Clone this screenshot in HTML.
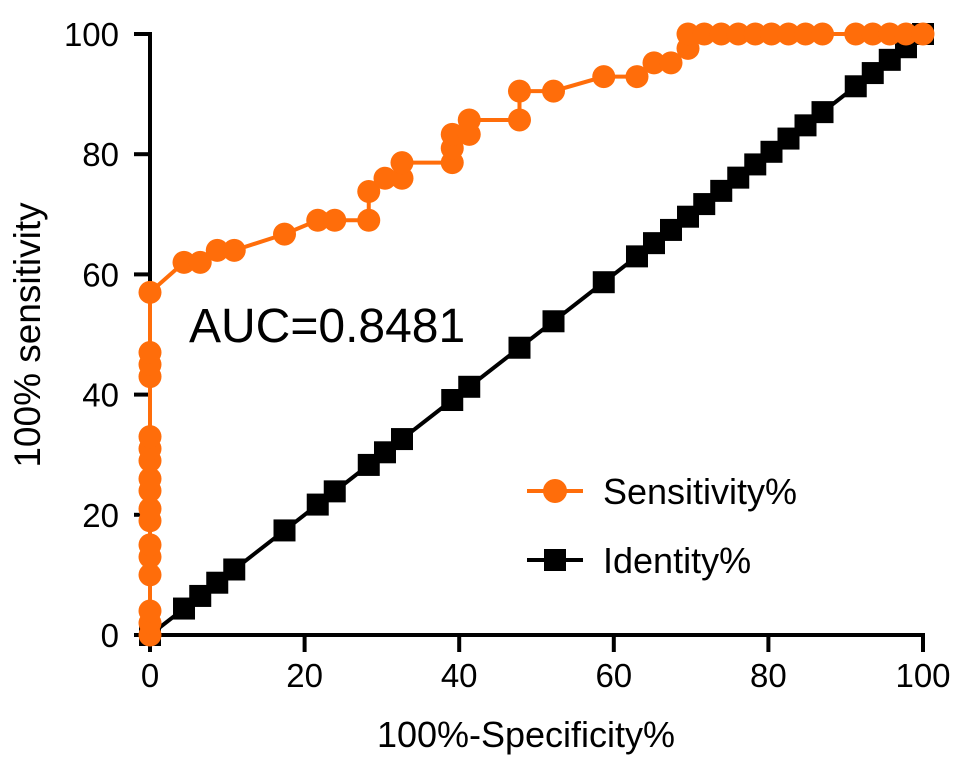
<!DOCTYPE html>
<html><head><meta charset="utf-8"><style>
body{margin:0;background:#fff}
svg{display:block;font-family:"Liberation Sans",Arial,sans-serif}
</style></head><body>
<svg id="chart" width="969" height="765" viewBox="0 0 969 765">
<g id="axes"></g><g id="plot"></g>
<text x="189" y="342" font-size="48" fill="#000">AUC=0.8481</text>
<text x="526" y="747" font-size="36" text-anchor="middle">100%-Specificity%</text>
<text transform="translate(40,335) rotate(-90)" font-size="37" text-anchor="middle">100% sensitivity</text>
<g>
<line x1="527" y1="491" x2="583" y2="491" stroke="#ff6d0a" stroke-width="4"/>
<circle cx="555" cy="491" r="12" fill="#ff6d0a"/>
<text x="603" y="504" font-size="36">Sensitivity%</text>
<line x1="527" y1="560" x2="583" y2="560" stroke="#000" stroke-width="4"/>
<rect x="544" y="549" width="22" height="22" fill="#000"/>
<text x="603" y="573" font-size="36">Identity%</text>
</g>
</svg>
<script>
const sensX=[0,0,0,0,0,0,0,0,0,0,0,0,0,0,0,0,0,4.4,6.5,8.7,10.9,17.4,21.7,23.9,28.3,28.3,30.4,32.6,32.6,39.1,39.1,39.1,41.3,41.3,47.8,47.8,52.2,58.7,63,65.2,67.4,69.6,69.6,71.7,73.9,76.1,78.3,80.4,82.6,84.8,87,91.3,93.5,95.7,97.8,100];
const sensY=[0,2,4,10,13,15,19,21,24,26,29,31,33,43,45,47,57,62,62,64,64,66.7,69,69,69,73.8,76,76,78.6,78.6,81,83.3,83.3,85.7,85.7,90.5,90.5,92.9,92.9,95.2,95.2,97.6,100,100,100,100,100,100,100,100,100,100,100,100,100,100];
const identX=[0,4.4,6.5,8.7,10.9,17.4,21.7,23.9,28.3,30.4,32.6,39.1,41.3,47.8,52.2,58.7,63,65.2,67.4,69.6,71.7,73.9,76.1,78.3,80.4,82.6,84.8,87,91.3,93.5,95.7,97.8,100];
const identY=identX.slice();
const xTicks=[0,20,40,60,80,100];
const yTicks=[0,20,40,60,80,100];
const NS='http://www.w3.org/2000/svg';
const X=v=>150+v*7.73, Y=v=>635-v*6.01;
const ax=document.getElementById('axes'), pl=document.getElementById('plot');
function mk(t,a,p){const e=document.createElementNS(NS,t);for(const k in a)e.setAttribute(k,a[k]);p.appendChild(e);return e;}
let l=mk('line',{x1:X(0),y1:Y(0)+2,x2:X(0),y2:Y(100)-2,stroke:'#000','stroke-width':4},ax);


l=mk('line',{x1:X(0)-2,y1:Y(0),x2:X(100)+2,y2:Y(0),stroke:'#000','stroke-width':4},ax);


yTicks.forEach(v=>{mk('line',{x1:X(0)-16,y1:Y(v),x2:X(0),y2:Y(v),stroke:'#000','stroke-width':4},ax);
 const t=mk('text',{x:X(0)-31,y:Y(v)+12,'font-size':33,'text-anchor':'end'},ax);t.textContent=v;
 
 });
xTicks.forEach(v=>{mk('line',{x1:X(v),y1:Y(0),x2:X(v),y2:Y(0)+17,stroke:'#000','stroke-width':4},ax);
 const t=mk('text',{x:X(v),y:Y(0)+52,'font-size':33,'text-anchor':'middle'},ax);t.textContent=v;
 
 });
let p=mk('polyline',{points:identX.map((v,i)=>X(v)+','+Y(identY[i])).join(' '),fill:'none',stroke:'#000','stroke-width':4},pl);


identX.forEach((v,i)=>{const r=mk('rect',{x:X(v)-11,y:Y(identY[i])-11,width:22,height:22,fill:'#000'},pl);
 
 });
p=mk('polyline',{points:sensX.map((v,i)=>X(v)+','+Y(sensY[i])).join(' '),fill:'none',stroke:'#ff6d0a','stroke-width':4},pl);


sensX.forEach((v,i)=>{const c=mk('circle',{cx:X(v),cy:Y(sensY[i]),r:11.5,fill:'#ff6d0a'},pl);
 
 });
</script>
</body></html>
